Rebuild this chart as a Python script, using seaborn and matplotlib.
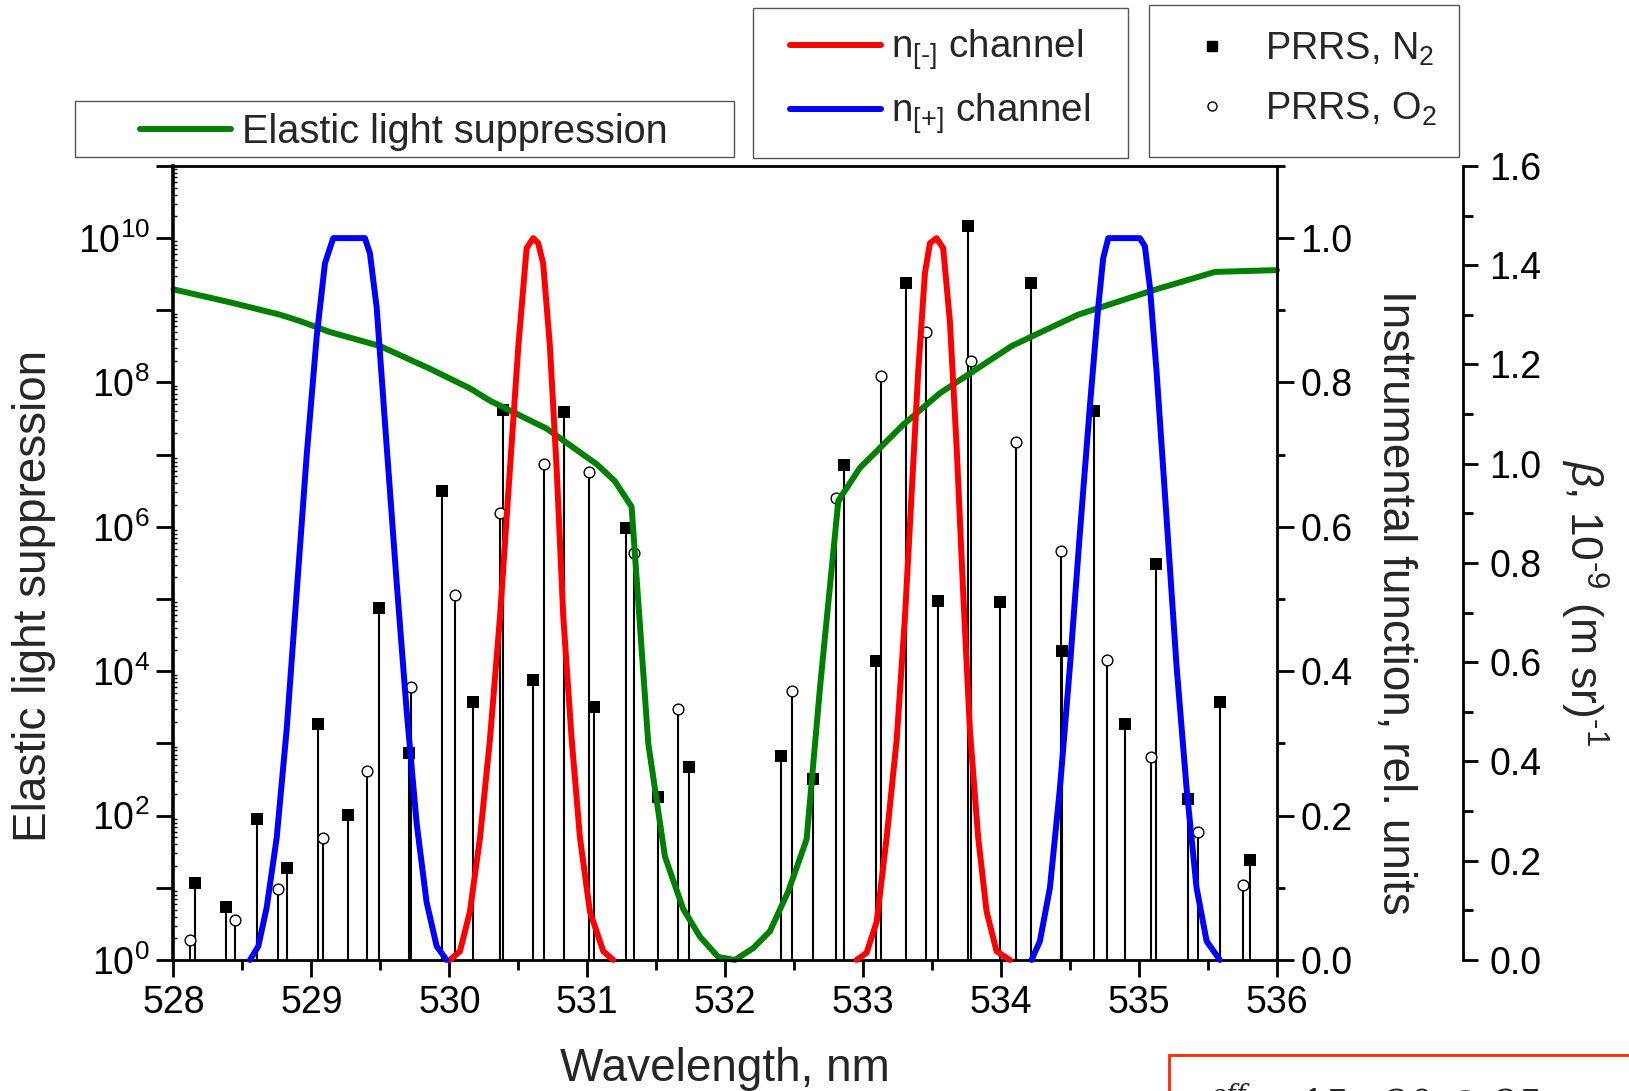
import numpy as np
import matplotlib
matplotlib.use('Agg')
import matplotlib.pyplot as plt
import seaborn as sns
from matplotlib.lines import Line2D
from matplotlib.patches import Rectangle
from matplotlib.ticker import MultipleLocator, FuncFormatter, FormatStrFormatter, LogLocator, NullFormatter

# ---------------- data ----------------
# Elastic light suppression (left log axis)
green_wl = [528.0, 528.41, 528.772, 528.917, 529.134, 529.497, 529.859, 530.149, 530.294,
            530.705, 530.971, 531.068, 531.20, 531.321, 531.442, 531.563, 531.695, 531.817,
            531.949, 532.07, 532.203, 532.324, 532.457, 532.59, 532.687, 532.82, 532.977,
            533.073, 533.29, 533.556, 533.798, 534.076, 534.354, 534.559, 535.103, 535.55,
            535.876, 536.0]
green_val = [1.95e9, 1.29e9, 8.7e8, 7.1e8, 5.0e8, 3.2e8, 1.55e8, 8.3e7, 5.6e7,
             2.3e7, 1.0e7, 7.4e6, 4.3e6, 1.9e6, 1.0e3, 27.0, 5.1, 2.1,
             1.1, 1.0, 1.46, 2.5, 8.9, 47.0, 5.9e3, 2.3e6, 6.6e6,
             1.0e7, 2.6e7, 7.1e7, 1.43e8, 3.2e8, 5.7e8, 8.7e8, 1.9e9, 3.4e9,
             3.55e9, 3.6e9]

# Instrumental functions (right axis)
red_left_wl = [530.004, 530.077, 530.149, 530.222, 530.294, 530.367, 530.439, 530.50, 530.56, 530.608,
               530.644, 530.68, 530.729, 530.778, 530.826, 530.887, 530.947, 531.019, 531.116, 531.188]
red_left_val = [0, 0.012, 0.067, 0.169, 0.305, 0.475, 0.68, 0.85, 0.986, 1.0,
                0.993, 0.965, 0.85, 0.68, 0.475, 0.305, 0.169, 0.067, 0.012, 0]
red_right_wl = [532.953, 533.025, 533.098, 533.17, 533.243, 533.303, 533.351, 533.399, 533.448, 533.484,
                533.532, 533.58, 533.629, 533.677, 533.725, 533.774, 533.834, 533.895, 533.967, 534.064]
red_right_val = [0, 0.01, 0.053, 0.169, 0.305, 0.475, 0.645, 0.815, 0.952, 0.993,
                 1.0, 0.986, 0.884, 0.713, 0.509, 0.318, 0.169, 0.067, 0.012, 0]
blue_left_wl = [528.555, 528.615, 528.676, 528.748, 528.82, 528.893, 528.966, 529.038, 529.098, 529.158,
                529.388, 529.424, 529.473, 529.545, 529.618, 529.69, 529.763, 529.835, 529.908, 529.98]
blue_left_val = [0, 0.019, 0.073, 0.169, 0.318, 0.509, 0.70, 0.863, 0.965, 1.0,
                 1.0, 0.979, 0.904, 0.713, 0.523, 0.346, 0.189, 0.080, 0.019, 0]
blue_right_wl = [534.221, 534.281, 534.354, 534.426, 534.499, 534.571, 534.644, 534.704, 534.74, 534.777,
                 535.006, 535.042, 535.079, 535.127, 535.2, 535.272, 535.345, 535.417, 535.49, 535.586]
blue_right_val = [0, 0.026, 0.10, 0.237, 0.407, 0.591, 0.768, 0.904, 0.972, 1.0,
                  1.0, 0.989, 0.932, 0.815, 0.611, 0.407, 0.237, 0.10, 0.026, 0]

# PRRS lines (beta axis)
n2_wl = [528.158, 528.384, 528.603, 528.821, 529.047, 529.266, 529.492, 529.710, 529.944, 530.169,
         530.388, 530.606, 530.832, 531.051, 531.284, 531.510, 531.736, 532.407, 532.633, 532.859,
         533.092, 533.311, 533.544, 533.763, 533.989, 534.215, 534.441, 534.674, 534.900, 535.126,
         535.352, 535.586, 535.804]
n2_beta = [0.155, 0.107, 0.285, 0.186, 0.475, 0.293, 0.710, 0.417, 0.946, 0.519,
           1.108, 0.565, 1.104, 0.509, 0.871, 0.329, 0.389, 0.412, 0.364, 0.997,
           0.603, 1.365, 0.724, 1.478, 0.722, 1.365, 0.622, 1.106, 0.475, 0.798,
           0.325, 0.519, 0.201]
o2_wl = [528.121, 528.444, 528.761, 529.085, 529.401, 529.725, 530.041, 530.365, 530.689, 531.013,
         531.337, 531.661, 532.482, 532.806, 533.130, 533.454, 533.785, 534.109, 534.433, 534.765,
         535.089, 535.427, 535.751]
o2_beta = [0.040, 0.080, 0.144, 0.245, 0.381, 0.551, 0.735, 0.900, 0.999, 0.984,
           0.821, 0.505, 0.542, 0.930, 1.177, 1.265, 1.206, 1.043, 0.825, 0.605,
           0.410, 0.258, 0.151]

x_ticks = [528, 529, 530, 531, 532, 533, 534, 535, 536]

# ---------------- style ----------------
sns.set_style('ticks')
plt.rcParams['font.family'] = ['Liberation Sans', 'DejaVu Sans']
plt.rcParams['mathtext.fontset'] = 'custom'
plt.rcParams['mathtext.rm'] = 'Liberation Sans'
plt.rcParams['mathtext.it'] = 'Liberation Sans:italic'
plt.rcParams['mathtext.bf'] = 'Liberation Sans:bold'
plt.rcParams['axes.edgecolor'] = 'black'
plt.rcParams['xtick.color'] = 'black'
plt.rcParams['ytick.color'] = 'black'

GREEN = '#008000'
RED = '#ff0000'
BLUE = '#0000ff'
LW = 4.3

fig = plt.figure(figsize=(16.29, 10.91), dpi=100)
fig.patch.set_facecolor('white')
ax = fig.add_axes([0.1065, 0.1201, 0.6774, 0.7278])
ax2 = ax.twinx()
ax3 = ax.twinx()

ax3.set_zorder(1)
ax.set_zorder(2)
ax2.set_zorder(3)
ax.patch.set_visible(False)
ax2.patch.set_visible(False)
ax3.patch.set_facecolor('white')

# ---- beta axis: PRRS stems ----
ax3.vlines(n2_wl, 0, n2_beta, colors='black', lw=1.5, zorder=1)
ax3.vlines(o2_wl, 0, o2_beta, colors='black', lw=1.5, zorder=1)
sns.scatterplot(x=n2_wl, y=n2_beta, marker='s', s=66, color='black', edgecolor='black',
                linewidth=0, ax=ax3, zorder=3, legend=False)
sns.scatterplot(x=o2_wl, y=o2_beta, marker='o', s=60, color='white', edgecolor='black',
                linewidth=1.0, ax=ax3, zorder=3, legend=False)
ax3.set_ylim(0, 1.6)

# ---- log axis: elastic light suppression ----
ax.set_yscale('log')
ax.set_xlim(528, 536)
ax.set_ylim(1, 1e11)
sns.lineplot(x=green_wl, y=green_val, ax=ax, color=GREEN, lw=LW, sort=False,
             estimator=None, legend=False)

# ---- instrumental functions ----
for wl, val, col in [(red_left_wl, red_left_val, RED), (red_right_wl, red_right_val, RED),
                     (blue_left_wl, blue_left_val, BLUE), (blue_right_wl, blue_right_val, BLUE)]:
    sns.lineplot(x=wl, y=val, ax=ax2, color=col, lw=LW, sort=False, estimator=None, legend=False)
ax2.set_ylim(0, 1.1)
ax2.set_xlim(528, 536)

for a in (ax, ax2):
    for ln in a.lines:
        ln.set_clip_on(False)
        ln.set_solid_joinstyle('round')
        ln.set_solid_capstyle('round')

# ---------------- spines & ticks ----------------
for a in (ax, ax2, ax3):
    for s in a.spines.values():
        s.set_visible(False)
        s.set_linewidth(2.0)
ax.spines['left'].set_visible(True)
ax.spines['left'].set_linewidth(2.6)
ax.spines['bottom'].set_visible(True)
ax.spines['top'].set_visible(True)
ax2.spines['right'].set_visible(True)
ax3.spines['right'].set_visible(True)
ax3.spines['right'].set_position(('axes', 1.1686))

ax.set_xticks(x_ticks)
ax.xaxis.set_minor_locator(MultipleLocator(0.5))
ax.tick_params(axis='x', which='major', direction='out', length=12, width=2, labelsize=27, pad=6,
               top=False)
ax.tick_params(axis='x', which='minor', direction='out', length=7, width=2, top=False)

ax.yaxis.set_major_locator(LogLocator(base=10, subs=(1.0,), numticks=30))
ax.yaxis.set_minor_locator(LogLocator(base=10, subs=np.arange(2, 10), numticks=30))
ax.yaxis.set_minor_formatter(NullFormatter())


def log_fmt(v, pos):
    e = int(round(np.log10(v)))
    return r'$\mathregular{10^{%d}}$' % e if e % 2 == 0 else ''


ax.yaxis.set_major_formatter(FuncFormatter(log_fmt))
ax.tick_params(axis='y', which='major', direction='out', length=12, width=2, labelsize=27, pad=5)
ax.tick_params(axis='y', which='minor', direction='in', length=3, width=1)

ax2.yaxis.set_major_locator(MultipleLocator(0.2))
ax2.yaxis.set_minor_locator(MultipleLocator(0.1))
ax2.yaxis.set_major_formatter(FormatStrFormatter('%.1f'))
ax2.tick_params(axis='y', which='major', direction='out', length=12, width=2, labelsize=27, pad=5)
ax2.tick_params(axis='y', which='minor', direction='out', length=6, width=2)

ax3.yaxis.set_major_locator(MultipleLocator(0.2))
ax3.yaxis.set_minor_locator(MultipleLocator(0.1))
ax3.yaxis.set_major_formatter(FormatStrFormatter('%.1f'))
ax3.tick_params(axis='y', which='major', direction='out', length=11, width=2, labelsize=27, pad=8)
ax3.tick_params(axis='y', which='minor', direction='out', length=7, width=2)

# ---------------- labels ----------------
ax.set_xlabel('Wavelength, nm', fontsize=33, va='center')
ax.xaxis.set_label_coords(0.4994, -0.137)
ax.set_ylabel('Elastic light suppression', fontsize=33, va='center')
ax.yaxis.set_label_coords(-0.126, 0.4587)
ax2.set_ylabel('Instrumental function, rel. units', fontsize=33, rotation=270, va='center')
ax2.yaxis.set_label_coords(1.1069, 0.45)
ax3.set_ylabel('$\\it{\\beta}$, 10$^{\u2010 9}$ (m sr)$^{\u2010 1}$', fontsize=32, rotation=270,
               va='center')
ax3.yaxis.set_label_coords(1.278, 0.45)

# ---------------- legends ----------------
W, H = 1629.0, 1091.0
leg_kw = dict(loc='center left', frameon=False, borderpad=0, borderaxespad=0)
fig.legend(handles=[Line2D([0], [0], color=GREEN, lw=LW)], labels=['Elastic light suppression'],
           bbox_to_anchor=(140 / W, 1 - 132 / H), handlelength=2.3, handletextpad=0.28,
           fontsize=28.6, **leg_kw)
fig.legend(handles=[Line2D([0], [0], color=RED, lw=LW), Line2D([0], [0], color=BLUE, lw=LW)],
           labels=['n$_{[\u2010]}$ channel', 'n$_{[+]}$ channel'],
           bbox_to_anchor=(790 / W, 1 - 82 / H), handlelength=2.35, handletextpad=0.27,
           labelspacing=0.5, fontsize=27.8, **leg_kw)
fig.legend(handles=[Line2D([], [], ls='none', marker='s', color='black', ms=6.5),
                    Line2D([], [], ls='none', marker='o', mfc='white', mec='black', ms=6.5, mew=1)],
           labels=[r'PRRS, N$_2$', r'PRRS, O$_2$'],
           bbox_to_anchor=((1212 - 19) / W, 1 - 79 / H), handlelength=1.0, handletextpad=0.9,
           labelspacing=0.6, fontsize=27.3, **leg_kw)

for (x0, y0, x1, y1) in [(75, 101, 734, 157), (753, 8, 1128, 158), (1149, 5, 1459, 157)]:
    fig.add_artist(Rectangle((x0 / W, 1 - y1 / H), (x1 - x0) / W, (y1 - y0) / H,
                             transform=fig.transFigure, fill=False, edgecolor='#555555', lw=1.0))

# partially visible annotation box at the bottom right
fig.add_artist(Rectangle((1169 / W, 1 - 1100 / H), 480 / W, 45 / H, transform=fig.transFigure,
                         fill=False, edgecolor='#ff2a00', lw=2.0))
fig.text(1186 / W, 1 - 1117 / H, r'$\nu^{eff}$ = 15 - 20 @ 25', fontsize=27,
         family='DejaVu Serif', math_fontfamily='dejavuserif', va='baseline', ha='left')

fig.savefig('out.png', dpi=100)
